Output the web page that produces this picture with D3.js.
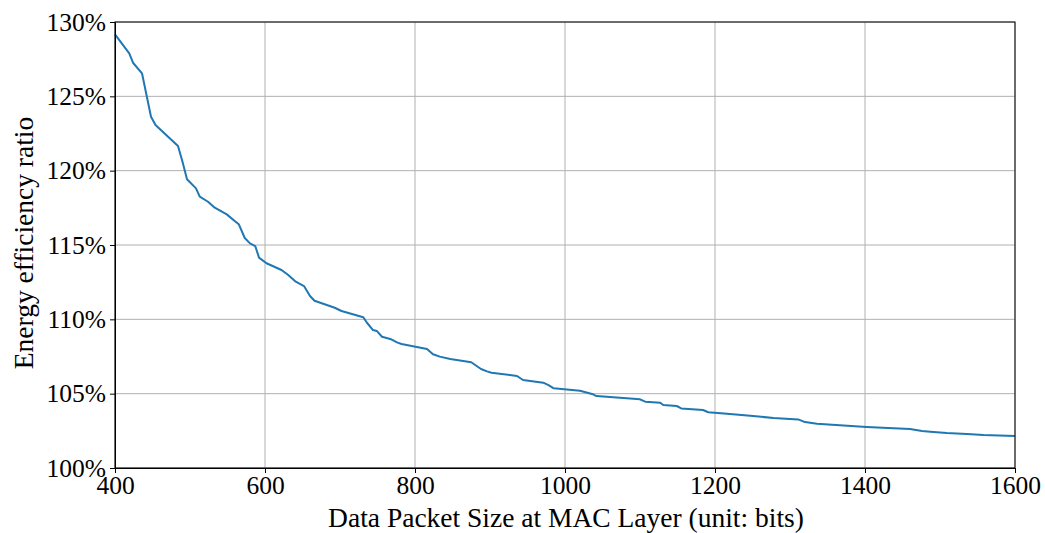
<!DOCTYPE html>
<html>
<head>
<meta charset="utf-8">
<script src="https://cdn.jsdelivr.net/npm/d3@7"></script>
<style>
  body { margin: 0; background: #fff; }
  svg { display: block; }
  text { font-family: "Times New Roman", "Liberation Serif", Tinos, Times, serif; fill: #000; }
</style>
</head>
<body>
<svg id="chart" width="1045" height="533"></svg>
<script>
const packetSizes = [400, 419, 424, 436, 442, 448, 454, 484, 490, 496, 508, 513, 524, 533, 549, 560, 565, 573, 580, 587, 592, 602, 622, 631, 641, 652, 660, 666, 693, 702, 731, 736, 744, 749, 756, 767, 776, 782, 816, 824, 833, 847, 875, 888, 896, 902, 936, 944, 971, 978, 985, 1020, 1036, 1042, 1100, 1107, 1127, 1131, 1149, 1155, 1184, 1191, 1216, 1247, 1278, 1311, 1320, 1336, 1402, 1460, 1476, 1487, 1509, 1536, 1558, 1600];
const efficiencyRatio = [129.17, 127.89, 127.26, 126.55, 125.09, 123.63, 123.07, 121.66, 120.60, 119.42, 118.81, 118.25, 117.91, 117.51, 117.06, 116.60, 116.40, 115.47, 115.11, 114.93, 114.15, 113.77, 113.32, 112.98, 112.53, 112.24, 111.57, 111.25, 110.78, 110.56, 110.14, 109.77, 109.28, 109.22, 108.83, 108.68, 108.45, 108.34, 108.00, 107.65, 107.49, 107.33, 107.11, 106.66, 106.50, 106.41, 106.19, 105.92, 105.74, 105.58, 105.36, 105.20, 104.98, 104.84, 104.62, 104.46, 104.39, 104.24, 104.17, 104.01, 103.90, 103.75, 103.65, 103.52, 103.36, 103.27, 103.09, 102.98, 102.76, 102.62, 102.49, 102.44, 102.35, 102.29, 102.22, 102.15];
const xTicks = [400, 600, 800, 1000, 1200, 1400, 1600];
const yTicks = [100, 105, 110, 115, 120, 125, 130];
const xLabel = "Data Packet Size at MAC Layer (unit: bits)";
const yLabel = "Energy efficiency ratio";

const FONT = '"Times New Roman", "Liberation Serif", Tinos, Times, serif';
const margin = {left: 115, right: 30, top: 22, bottom: 65};
const W = 1045, H = 533;
const svg = d3.select("#chart");
const x = d3.scaleLinear().domain([400, 1600]).range([margin.left, W - margin.right]);
const y = d3.scaleLinear().domain([100, 130]).range([H - margin.bottom, margin.top]);

// grid
svg.append("g").selectAll("line").data(xTicks).join("line")
  .attr("x1", d => x(d)).attr("x2", d => x(d))
  .attr("y1", y(100)).attr("y2", y(130))
  .attr("stroke", "#b0b0b0").attr("stroke-width", 1);
svg.append("g").selectAll("line").data(yTicks).join("line")
  .attr("x1", x(400)).attr("x2", x(1600))
  .attr("y1", d => y(d)).attr("y2", d => y(d))
  .attr("stroke", "#b0b0b0").attr("stroke-width", 1);

// line
const pts = packetSizes.map((v, i) => [v, efficiencyRatio[i]]);
svg.append("path").datum(pts)
  .attr("fill", "none").attr("stroke", "#1f77b4").attr("stroke-width", 2)
  .attr("stroke-linejoin", "round")
  .attr("d", d3.line().x(d => x(d[0])).y(d => y(d[1])));

// frame
svg.append("rect").attr("x", x(400)).attr("y", y(130))
  .attr("width", x(1600) - x(400)).attr("height", y(100) - y(130))
  .attr("fill", "none").attr("stroke", "#000").attr("stroke-width", 1);

// axes
const xAxis = svg.append("g").attr("transform", `translate(0,${y(100)})`)
  .call(d3.axisBottom(x).tickValues(xTicks).tickFormat(d3.format("d")).tickSize(5).tickPadding(3));
const yAxis = svg.append("g").attr("transform", `translate(${x(400)},0)`)
  .call(d3.axisLeft(y).tickValues(yTicks).tickFormat(d => d + "%").tickSize(5).tickPadding(4));
[xAxis, yAxis].forEach(g => {
  g.attr("font-family", FONT).attr("font-size", 25.5);
  g.select(".domain").attr("stroke", "#000");
  g.selectAll(".tick line").attr("stroke", "#000");
  g.selectAll("text").attr("fill", "#000");
});

svg.append("text").attr("x", (x(400) + x(1600)) / 2 + 1).attr("y", 527)
  .attr("text-anchor", "middle").attr("font-family", FONT).attr("font-size", 27.5).text(xLabel);
svg.append("text").attr("transform", `translate(33,${(y(100) + y(130)) / 2 - 2}) rotate(-90)`)
  .attr("text-anchor", "middle").attr("font-family", FONT).attr("font-size", 27.5).text(yLabel);
</script>
</body>
</html>
